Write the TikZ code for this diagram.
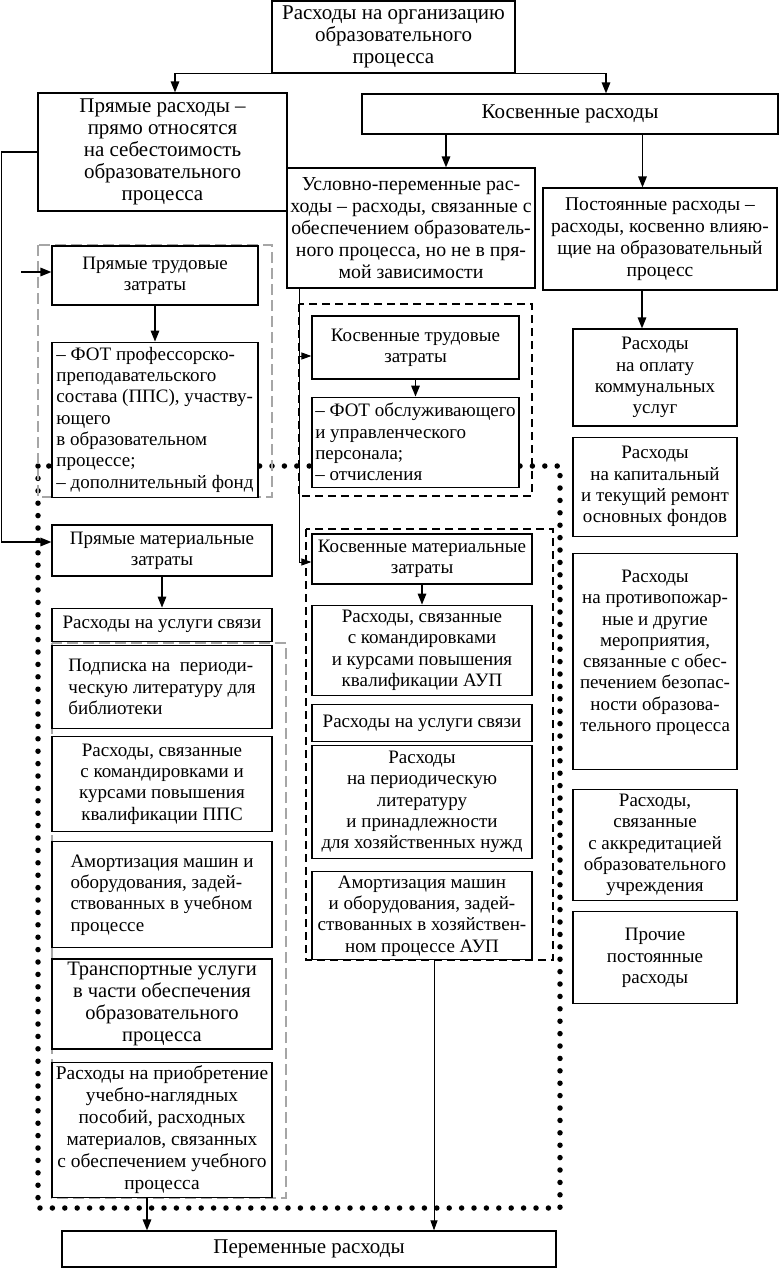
\documentclass[tikz,border=0pt]{standalone}
\usepackage{fontspec}
\setmainfont{Liberation Serif}
\usetikzlibrary{arrows.meta,positioning}

\begin{document}
\begin{tikzpicture}[
  x=1pt, y=-1pt,
  box/.style={draw, line width=1.2pt, fill=white, align=center,
    inner sep=2pt, font=\fontsize{19}{21.3}\selectfont},
  bigbox/.style={box, font=\fontsize{21}{22}\selectfont},
  lbox/.style={box, align=left},
  arr/.style={line width=1.5pt, -{Triangle[length=11pt, width=8.5pt]}},
  thinarr/.style={line width=1pt, -{Triangle[length=10pt, width=7pt]}},
  grp/.style={line width=1.3pt, dash pattern=on 8pt off 5pt},
  ggrp/.style={gray!70, line width=1.2pt, dash pattern=on 11pt off 5pt},
  dotline/.style={line width=5.5pt, line cap=round,
    dash pattern=on 0pt off 12.4pt},
]
  \useasboundingbox (0,0) rectangle (780,1268);
  % Frames of the groups
  \draw[dotline] (38,466) rectangle (560,1208);
  \draw[ggrp] (38,245) rectangle (272,497);
  \draw[grp] (299,304) rectangle (532,496);
  \draw[grp] (306,529) rectangle (553,960);
  \draw[ggrp] (52,643) rectangle (286,1198);
  % Top levels
  \node[bigbox, minimum width=243, minimum height=72] (org) at (393.5,37)
    {Расходы на организацию\\образовательного\\процесса};
  \node[bigbox, minimum width=249, minimum height=118] (pryam) at (162.5,152)
    {Прямые расходы –\\прямо относятся\\на себестоимость\\образовательного\\процесса};
  \node[bigbox, minimum width=416, minimum height=40] (kosv) at (570,114)
    {Косвенные расходы};
  \node[box, font=\fontsize{19.8}{22}\selectfont, inner xsep=0.5pt,
    minimum width=248, minimum height=120] (uslov) at (411,228)
    {Условно-переменные рас-\\ходы – расходы, связанные с\\обеспечением образователь-\\ного процесса, но не в пря-\\мой зависимости};
  \node[box, font=\fontsize{19.5}{22}\selectfont, minimum width=234,
    minimum height=102] (postoyan) at (660,239)
    {Постоянные расходы –\\расходы, косвенно влияю-\\щие на образовательный\\процесс};
  % Direct costs
  \node[box, minimum width=206, minimum height=59] (ptrud) at (155,275.5)
    {Прямые трудовые\\затраты};
  \node[lbox, minimum width=206, minimum height=155, below=36pt of ptrud] (pfot)
    {– ФОТ профессорско-\\преподавательского\\состава (ППС), участву-\\ющего\\в образовательном\\процессе;\\– дополнительный фонд};
  \node[box, minimum width=220, minimum height=51] (pmat) at (162,550.5)
    {Прямые материальные\\затраты};
  \node[box, minimum width=220, minimum height=33, below=31pt of pmat] (psvyaz)
    {Расходы на услуги связи};
  \node[lbox, minimum width=220, minimum height=83, below=3pt of psvyaz] (podpiska)
    {Подписка на~ периоди-\\ческую литературу для\\библиотеки};
  \node[box, minimum width=220, minimum height=95, below=7pt of podpiska] (pkom)
    {Расходы, связанные\\с командировками и\\курсами повышения\\квалификации ППС};
  \node[lbox, minimum width=220, minimum height=106, below=9pt of pkom] (pamort)
    {Амортизация машин и\\оборудования, задей-\\ствованных в учебном\\процессе};
  \node[box, font=\fontsize{20.5}{22}\selectfont, minimum width=220,
    minimum height=90, below=10pt of pamort] (transp)
    {Транспортные услуги\\в части обеспечения\\образовательного\\процесса};
  \node[box, font=\fontsize{19.4}{22}\selectfont, inner xsep=1pt,
    minimum width=220, minimum height=135, below=12pt of transp] (priobr)
    {Расходы на приобретение\\учебно-наглядных\\пособий, расходных\\материалов, связанных\\с обеспечением учебного\\процесса};
  \node[bigbox, minimum width=494, minimum height=36] (perem) at (309,1249)
    {Переменные расходы};
  % Conditionally variable costs
  \node[box, minimum width=207, minimum height=63] (ktrud) at (415.5,347.5)
    {Косвенные трудовые\\затраты};
  \node[lbox, minimum width=207, minimum height=90, below=17pt of ktrud] (kfot)
    {– ФОТ обслуживающего\\и управленческого\\персонала;\\– отчисления};
  \node[box, minimum width=220, minimum height=50] (kmat) at (422,559)
    {Косвенные материальные\\затраты};
  \node[box, minimum width=220, minimum height=90, below=20pt of kmat] (kkom)
    {Расходы, связанные\\с командировками\\и курсами повышения\\квалификации АУП};
  \node[box, minimum width=220, minimum height=37, below=8pt of kkom] (ksvyaz)
    {Расходы на услуги связи};
  \node[box, minimum width=220, minimum height=113, below=3pt of ksvyaz] (kperiod)
    {Расходы\\на периодическую\\литературу\\и принадлежности\\для хозяйственных нужд};
  \node[box, minimum width=220, minimum height=88, below=12pt of kperiod] (kamort)
    {Амортизация машин\\и оборудования, задей-\\ствованных в хозяйствен-\\ном процессе АУП};
  % Fixed costs
  \node[box, minimum width=164, minimum height=97] (komm) at (655,377.5)
    {Расходы\\на оплату\\коммунальных\\услуг};
  \node[box, minimum width=164, minimum height=99, below=10pt of komm] (remont)
    {Расходы\\на капитальный\\и текущий ремонт\\основных фондов};
  \node[box, minimum width=164, minimum height=216, below=16pt of remont] (pozhar)
    {Расходы\\на противопожар-\\ные и другие\\мероприятия,\\связанные с обес-\\печением безопас-\\ности образова-\\тельного процесса\\ \mbox{}};
  \node[box, minimum width=164, minimum height=111, below=19pt of pozhar] (akkred)
    {Расходы,\\связанные\\с аккредитацией\\образовательного\\учреждения};
  \node[box, minimum width=164, minimum height=92, below=10pt of akkred] (prochie)
    {Прочие\\постоянные\\расходы};
  % Connectors
  \draw[arr] (org.south west) -| ([xshift=12.5pt]pryam.north);
  \draw[arr] (org.south east) -| ([xshift=36pt]kosv.north);
  \draw[arr] ([xshift=35pt]uslov.north |- kosv.south) -- ([xshift=35pt]uslov.north);
  \draw[arr] ([xshift=-17.5pt]postoyan.north |- kosv.south)
    -- ([xshift=-17.5pt]postoyan.north);
  \draw[arr] ([xshift=-13pt]komm.north |- postoyan.south) -- ([xshift=-13pt]komm.north);
  \draw[arr] (pryam.west) -- ++(-36,0) |- ([yshift=8.5pt]pmat.west);
  \coordinate (ptin) at ([xshift=-30pt, yshift=3.5pt]ptrud.west);
  \draw[arr] (ptin) -- (ptin -| ptrud.west);
  \draw[arr] (ptrud) -- (pfot);
  \coordinate (vtop) at ([xshift=-112pt]uslov.south);
  \draw[thinarr] (vtop) |- ([yshift=-8.5pt]ktrud.west);
  \draw[thinarr] (vtop) |- ([yshift=-3pt]kmat.west);
  \draw[arr] (ktrud) -- (kfot);
  \draw[arr] (kmat) -- (kkom);
  \draw[arr] (pmat) -- (psvyaz);
  \draw[arr] ([xshift=-15pt]priobr.south) -- ([xshift=-15pt]priobr.south |- perem.north);
  \draw[thinarr] ([xshift=12pt]kamort.south) -- ([xshift=12pt]kamort.south |- perem.north);
\end{tikzpicture}
\end{document}
